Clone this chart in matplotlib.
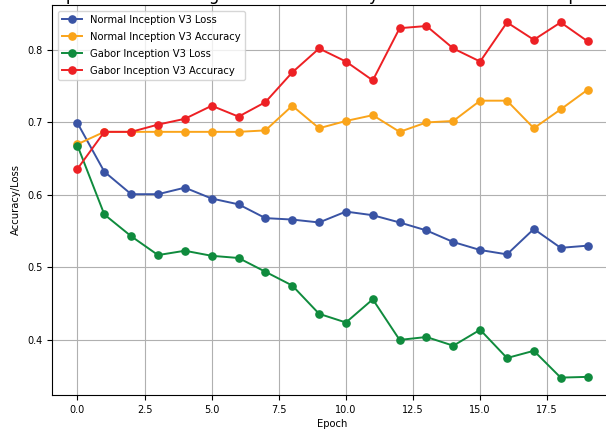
import matplotlib
matplotlib.use("Agg")
import matplotlib.pyplot as plt

epochs = list(range(20))

normal_loss = [0.699, 0.632, 0.601, 0.601, 0.610, 0.595, 0.587, 0.568, 0.566, 0.562,
               0.577, 0.572, 0.562, 0.551, 0.535, 0.524, 0.518, 0.553, 0.527, 0.530]
normal_acc = [0.670, 0.687, 0.687, 0.687, 0.687, 0.687, 0.687, 0.689, 0.723, 0.692,
              0.702, 0.710, 0.687, 0.700, 0.702, 0.730, 0.730, 0.692, 0.718, 0.745]
gabor_loss = [0.668, 0.573, 0.543, 0.517, 0.523, 0.516, 0.513, 0.494, 0.475, 0.436,
              0.424, 0.456, 0.400, 0.404, 0.392, 0.414, 0.375, 0.385, 0.348, 0.349]
gabor_acc = [0.636, 0.687, 0.687, 0.697, 0.705, 0.723, 0.708, 0.728, 0.769, 0.802,
             0.784, 0.758, 0.830, 0.833, 0.802, 0.784, 0.838, 0.814, 0.838, 0.812]

plt.rcParams['font.size'] = 7.2
plt.rcParams['xtick.labelsize'] = 7
plt.rcParams['ytick.labelsize'] = 7

fig = plt.figure(figsize=(6.06, 4.30), dpi=100)
ax = fig.add_axes([0.0858, 0.0814, 0.9258, 0.907])

ax.plot(epochs, normal_loss, marker='o', ms=5.2, lw=1.4, color='#3953a4', label='Normal Inception V3 Loss')
ax.plot(epochs, normal_acc, marker='o', ms=5.2, lw=1.4, color='#faa41a', label='Normal Inception V3 Accuracy')
ax.plot(epochs, gabor_loss, marker='o', ms=5.2, lw=1.4, color='#0f8b3d', label='Gabor Inception V3 Loss')
ax.plot(epochs, gabor_acc, marker='o', ms=5.2, lw=1.4, color='#ed2024', label='Gabor Inception V3 Accuracy')

ax.set_ylim(0.324, 0.862)
ax.set_yticks([0.4, 0.5, 0.6, 0.7, 0.8])
ax.grid(True, color='#b0b0b0', lw=0.8)
ax.set_xlabel('Epoch', labelpad=3)
ax.set_ylabel('Accuracy/Loss')
# title sits mostly above the top edge, as in the reference screenshot
ax.set_title('Comparison of Training Loss and Accuracy: Normal vs Gabor Inception V3', fontsize=12, pad=3.6)
ax.legend(loc='upper left', labelspacing=0.7, borderaxespad=0.6)

fig.savefig('out.png', dpi=100)
